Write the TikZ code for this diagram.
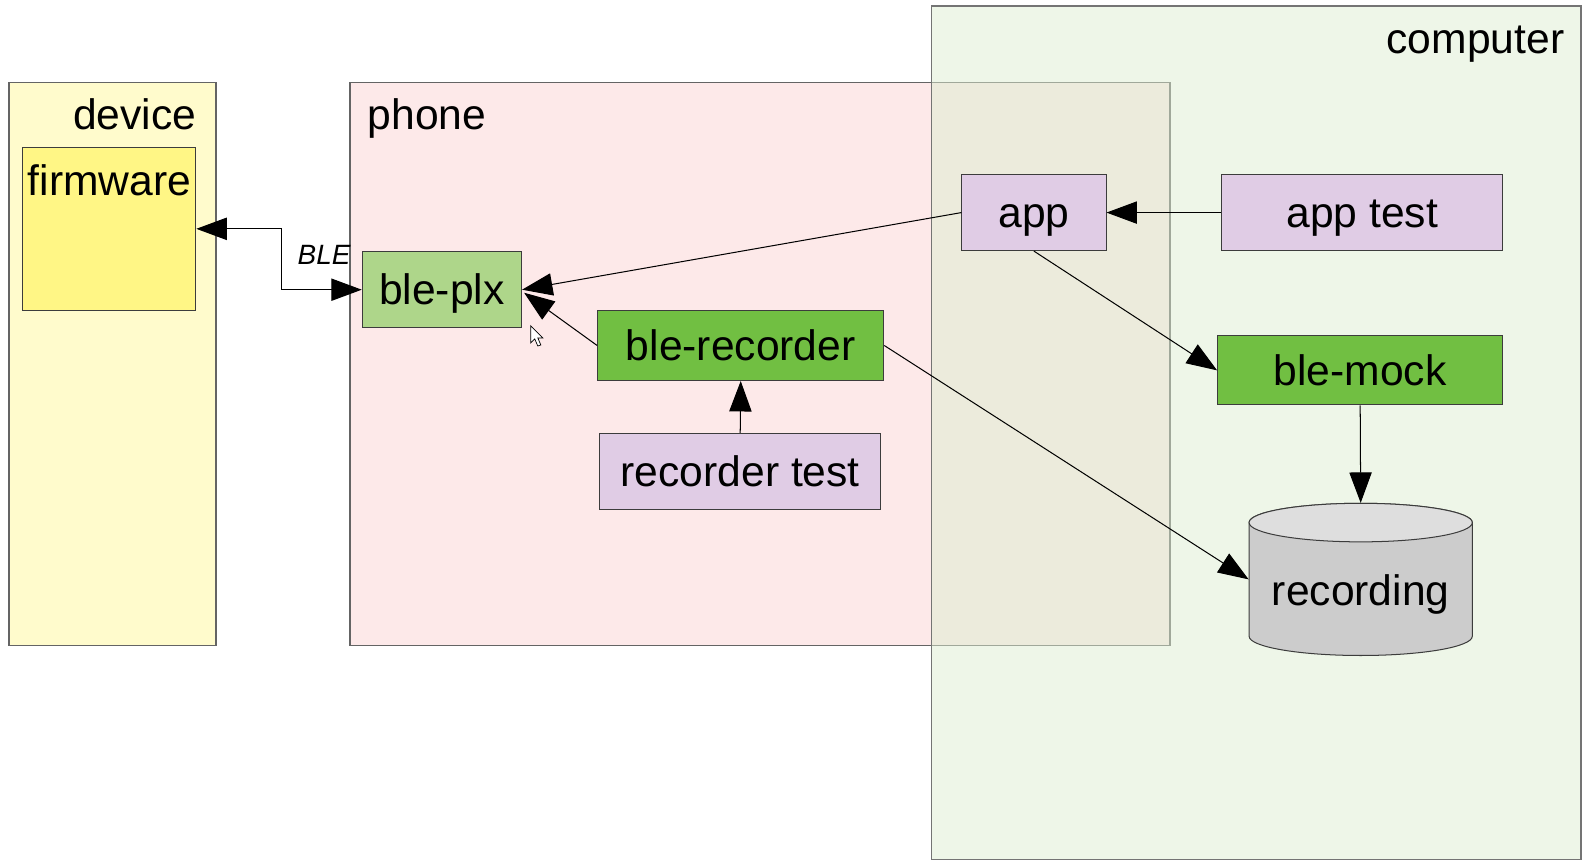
\documentclass[tikz,border=0pt]{standalone}
\usepackage{fontspec}
\setmainfont{Liberation Sans}
\usetikzlibrary{arrows.meta,calc}
\definecolor{devfill}{RGB}{255,251,204}
\definecolor{fwfill}{RGB}{255,246,133}
\definecolor{phonefill}{RGB}{253,233,233}
\definecolor{compfill}{RGB}{221,237,209}
\definecolor{lavender}{RGB}{224,204,229}
\definecolor{lightgreen}{RGB}{174,214,138}
\definecolor{midgreen}{RGB}{113,191,66}
\definecolor{cylbody}{RGB}{204,204,204}
\definecolor{cyltop}{RGB}{222,222,222}
\definecolor{contline}{RGB}{100,100,100}
\definecolor{boxline}{RGB}{60,60,60}
\begin{document}
\begin{tikzpicture}[x=0.5pt,y=-0.5pt,
  bigtext/.style={font=\fontsize{21pt}{25pt}\selectfont, text height=19pt, text depth=4.45pt, inner sep=0pt},
  box/.style={bigtext, draw=boxline, line width=0.5pt},
  container/.style={draw=contline, line width=0.65pt},
  conn/.style={draw=black, line width=0.5pt, -{Triangle[length=15pt,width=11pt]}},
  biconn/.style={draw=black, line width=0.5pt, {Triangle[length=15pt,width=11pt]}-{Triangle[length=15pt,width=11pt]}}
]
\useasboundingbox (0,0) rectangle (1567,853);

% containers
\draw[container, fill=devfill] (9,81) rectangle (213,636);
\draw[container, fill=phonefill] (345,81) rectangle (1153,636);
\fill[compfill, fill opacity=0.5] (918,6) rectangle (1558,847);
\draw[container, draw=contline!90] (918,6) rectangle (1558,847);

% container labels
\node[bigtext, anchor=base east] (devicelabel) at (194,128) {device};
\node[bigtext, anchor=base west] (phonelabel) at (362,128) {phone};
\node[bigtext, anchor=base east] (computerlabel) at (1542,53) {computer};

% firmware
\node[draw=boxline, line width=0.5pt, fill=fwfill, minimum width=85.5pt, minimum height=80.5pt, inner sep=0pt] (firmware) at (107.5,225.5) {};
\node[bigtext, anchor=base] (firmwarelabel) at (108,193) {firmware};

% nodes
\node[box, fill=lightgreen, minimum width=78.5pt, minimum height=37.5pt] (bleplx) at (435.5,285.5) {ble-plx};
\node[box, fill=midgreen, minimum width=141pt, minimum height=34.5pt] (blerecorder) at (730,340.5) {ble-recorder};
\node[box, fill=lavender, minimum width=138.5pt, minimum height=37.5pt] (recordertest) at (729.5,464.5) {recorder test};
\node[box, fill=lavender, minimum width=71pt, minimum height=37.5pt] (app) at (1019,209.5) {app};
\node[box, fill=lavender, minimum width=138.5pt, minimum height=37.5pt] (apptest) at (1342.5,209.5) {app test};
\node[box, fill=midgreen, minimum width=140.5pt, minimum height=34pt] (blemock) at (1340.5,365) {ble-mock};

% recording cylinder
\node[inner sep=0pt, minimum width=110pt, minimum height=75pt] (recording) at (1341,571) {};
\draw[draw=boxline, line width=0.5pt, fill=cylbody]
  (1231,515) -- (1231,627) arc[start angle=180, end angle=360, x radius=110, y radius=-19]
  -- (1451,515) arc[start angle=0, end angle=180, x radius=110, y radius=-19] -- cycle;
\draw[draw=boxline, line width=0.5pt, fill=cyltop] (1341,515) ellipse[x radius=110, y radius=19];
\node[bigtext] (recordinglabel) at (1341,582) {recording};

% connectors
\coordinate (blebend) at (277,0);
\draw[biconn] (firmware.east) -- (firmware.east -| blebend) |- (bleplx.west);
\node[font=\fontsize{13.75pt}{16pt}\selectfont\itshape, anchor=base west, inner sep=0pt] (blelabel) at (293,261) {BLE};
\draw[conn] (app.west) -- (bleplx.east);
\draw[conn] (blerecorder.west) -- ($(bleplx.east)+(2,3)$);
\draw[conn] (apptest.west) -- (app.east);
\draw[conn] (app.south) -- (blemock.west);
\draw[conn] (blemock.south) -- (recording.north);
\draw[conn] (blerecorder.east) -- (recording.west);
\draw[conn] (recordertest.north) -- (blerecorder.south);

% mouse cursor
\draw[fill=white, draw=black, line width=0.35pt, line join=miter]
  (523,321) -- (523,338) -- (527,334) -- (530,341) -- (533,340) -- (530,333) -- (535,333) -- cycle;
\end{tikzpicture}
\end{document}
